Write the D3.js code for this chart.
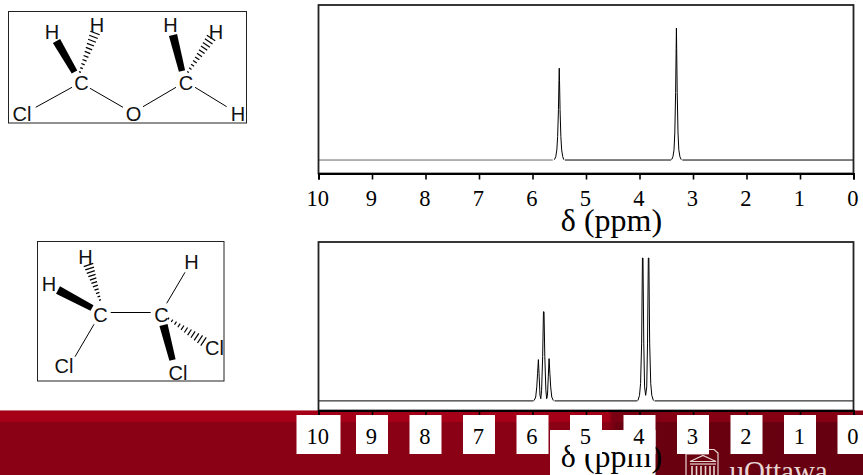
<!DOCTYPE html>
<html><head><meta charset="utf-8">
<script src="https://cdn.jsdelivr.net/npm/d3@7"></script>
<style>html,body{margin:0;padding:0;background:#fff;overflow:hidden}svg{display:block}</style>
</head><body><svg id="c" width="863" height="475"></svg>
<script>
// ---- chart values ----
const ppmTicks = [10,9,8,7,6,5,4,3,2,1,0];
const axisLabel = "δ (ppm)";
// spectrum traces: [ppm, intensity %]
const spectrumA_left = [[10,8],[5.62,8]];
const spectrumA_peak1 = [[5.59,8.2],[5.565,10],[5.545,14],[5.53,22],[5.515,38],[5.505,55],[5.5,62.5],[5.495,55],[5.485,38],[5.47,22],[5.455,14],[5.435,10],[5.415,8.2]];
const spectrumA_mid = [[5.395,8],[3.41,8]];
const spectrumA_peak2 = [[3.4,8.2],[3.375,10],[3.355,14],[3.34,24],[3.325,48],[3.315,74],[3.31,86.3],[3.305,74],[3.295,48],[3.28,24],[3.265,14],[3.245,10],[3.22,8.2]];
const spectrumA_right = [[3.2,8],[0,8]];
const spectrumB_left = [[10,5.7],[5.98,5.7]];
const spectrumB_triplet = [[5.97,5.9],[5.94,8],[5.92,14],[5.905,22],[5.89,30.2],[5.875,20],[5.86,9],[5.845,7],[5.83,12],[5.81,32],[5.795,58.6],[5.785,58.6],[5.77,32],[5.75,12],[5.735,7],[5.72,9],[5.705,20],[5.69,30.8],[5.675,22],[5.66,14],[5.64,8],[5.61,5.9]];
const spectrumB_mid = [[5.59,5.7],[4.04,5.7]];
const spectrumB_doublet = [[4.03,5.9],[4.0,9],[3.98,16],[3.96,40],[3.945,90.5],[3.935,90.5],[3.92,40],[3.905,14],[3.885,9],[3.865,14],[3.85,40],[3.835,90.5],[3.825,90.5],[3.81,40],[3.79,16],[3.77,9],[3.74,5.9]];
const spectrumB_right = [[3.72,5.7],[0,5.7]];

// ---- molecule text and bonds (diagram geometry, not data) ----
const moleculeAtomsA = [["H",52,31.5],["H",97,25],["C",81.5,83],["Cl",22,114],["O",133.5,114],["C",186,83],["H",170.5,25],["H",216,31.5],["H",238,114]];
const moleculeBondsA = [[35.7,107.3,72,87.3],[90,88.3,123,107.3],[143,106.7,176,87.3],[195,87.3,226.7,106.7]];
const moleculeWedgesA = [[56.5,41,74.5,72],[173,35,182,71]];
const moleculeHashesA = [[80,72,95,33],[188,72,211,38]];
const moleculeAtomsB = [["H",85.5,256.5],["H",49,284],["C",100.5,315],["C",161.5,314.5],["H",191.5,262],["Cl",214.5,347.5],["Cl",64,366],["Cl",178,372.5]];
const moleculeBondsB = [[110.7,312.5,150.7,312.5],[166.7,303.3,185,272.3],[94,324.3,75,356.7]];
const moleculeWedgesB = [[58,290,92,308],[163.5,325,172.5,360]];
const moleculeHashesB = [[100,300,88.5,265],[168.5,318.5,203.5,341.5]];

const svg = d3.select("#c");
const defs = svg.append("defs");
const g1 = defs.append("linearGradient").attr("id","bandTop");
[[0,"#a50018"],[.705,"#a50018"],[.71,"#7a0012"],[.75,"#7a0012"],[.77,"#860014"],[1,"#860014"]].forEach(s=>g1.append("stop").attr("offset",s[0]).attr("stop-color",s[1]));
const g2 = defs.append("linearGradient").attr("id","bandLow");
[[0,"#8a0014"],[.705,"#8a0014"],[.715,"#6a0010"],[1,"#660010"]].forEach(s=>g2.append("stop").attr("offset",s[0]).attr("stop-color",s[1]));

// ---- footer band ----
svg.append("rect").attr("x",0).attr("y",410).attr("width",863).attr("height",65).attr("fill","url(#bandLow)");
svg.append("rect").attr("x",0).attr("y",410).attr("width",863).attr("height",12).attr("fill","url(#bandTop)");
svg.append("rect").attr("x",0).attr("y",410).attr("width",863).attr("height",1).attr("fill","#c8707f");

// logo
const logo = svg.append("g").attr("fill","none").attr("stroke","#e9d6d3").attr("stroke-width",1.2);
logo.append("path").attr("d","M686 475V454H708V449.5H714L718 453V475");
logo.append("path").attr("d","M690 461.5L703 455.5L716 461.5Z");
logo.append("path").attr("d","M690 464H716");
logo.append("path").attr("d","M692 466V475M696.5 466V475M701 466V475M705.5 466V475M710 466V475M714 466V475").attr("stroke-width",1.6);
svg.append("text").attr("x",729.5).attr("y",481).attr("font-family","'Liberation Serif'").attr("font-size",29).attr("fill","#e9d6d3").text("uOttawa");

const x = d3.scaleLinear().domain([10,0]).range([318.5,853.5]);

function panel(top,bottom,traces,labelY,labelBaseline,boxes){
  const y = d3.scaleLinear().domain([0,100]).range([bottom,top]);
  const g = svg.append("g");
  const line = d3.line().x(d=>x(d[0])).y(d=>y(d[1]));
  traces.forEach(t=>{
    g.append("path").datum(t.d).attr("d",line).attr("fill","none")
     .attr("stroke",t.c||"#000").attr("stroke-width",t.w||1);
  });
  g.append("rect").attr("x",x(10)).attr("y",top).attr("width",x(0)-x(10)).attr("height",bottom-top)
   .attr("fill","none").attr("stroke","#222").attr("stroke-width",1.8);
  const axis = d3.axisBottom(x).tickValues(ppmTicks).tickSize(6).tickFormat("");
  const ag = g.append("g").attr("transform",`translate(0,${bottom})`).call(axis);
  ag.selectAll("path").attr("stroke","#000").attr("stroke-width",2);
  ag.selectAll("line").attr("stroke","#000").attr("stroke-width",1.6);

  const lg = svg.append("g");
  if(boxes){
    lg.append("rect").attr("x",550).attr("y",430).attr("width",105.5).attr("height",45).attr("fill","#fff");
  }
  lg.append("text").attr("x",611.5).attr("y",labelBaseline).attr("text-anchor","middle")
    .attr("font-family","'Liberation Serif'").attr("font-size",32).attr("fill","#000").text(axisLabel);
  ppmTicks.forEach(v=>{
    const cx = x(v);
    if(boxes){
      const hw = v===10?22:16;
      lg.append("rect").attr("x",cx-hw).attr("y",415).attr("width",hw*2).attr("height",39).attr("fill","#fff");
    }
    lg.append("text").attr("x",cx-0.7).attr("y",labelY).attr("text-anchor","middle")
      .attr("font-family","'Liberation Serif'").attr("font-size",22.5).attr("fill","#000").text(v);
  });
}
panel(5,173.5,[
  {d:spectrumA_left,c:"#666"},{d:spectrumA_peak1},{d:spectrumA_mid},{d:spectrumA_peak2},{d:spectrumA_right}
],206,231,false);
panel(242,410.5,[
  {d:spectrumB_left},{d:spectrumB_triplet},{d:spectrumB_mid},{d:spectrumB_doublet},{d:spectrumB_right}
],444,466.5,true);

// ---- molecules ----
function molecule(frame,atoms,bonds,wedges,hashes){
  const g = svg.append("g");
  g.append("rect").attr("x",frame[0]).attr("y",frame[1]).attr("width",frame[2]-frame[0]).attr("height",frame[3]-frame[1])
   .attr("fill","#fff").attr("stroke","#222").attr("stroke-width",1);
  bonds.forEach(b=>g.append("line").attr("x1",b[0]).attr("y1",b[1]).attr("x2",b[2]).attr("y2",b[3]).attr("stroke","#000").attr("stroke-width",1));
  wedges.forEach(w=>{
    const dx=w[2]-w[0],dy=w[3]-w[1],l=Math.hypot(dx,dy),nx=-dy/l,ny=dx/l,a=4.2,b=3.2;
    g.append("polygon").attr("points",[[w[0]+nx*a,w[1]+ny*a],[w[0]-nx*a,w[1]-ny*a],[w[2]-nx*b,w[3]-ny*b],[w[2]+nx*b,w[3]+ny*b]].join(" ")).attr("fill","#000");
  });
  hashes.forEach(h=>{
    const dx=h[2]-h[0],dy=h[3]-h[1],l=Math.hypot(dx,dy),nx=-dy/l,ny=dx/l,n=11;
    d3.range(n).forEach(i=>{
      const t=i/(n-1),px=h[0]+dx*t,py=h[1]+dy*t,r=1+t*4;
      g.append("line").attr("x1",px+nx*r).attr("y1",py+ny*r).attr("x2",px-nx*r).attr("y2",py-ny*r).attr("stroke","#000").attr("stroke-width",1.2);
    });
  });
  atoms.forEach(a=>g.append("text").attr("x",a[1]).attr("y",a[2]+7).attr("text-anchor","middle")
    .attr("font-family","'Liberation Sans'").attr("font-size",20).attr("fill","#111").text(a[0]));
}
molecule([8.5,11.5,246.5,123],moleculeAtomsA,moleculeBondsA,moleculeWedgesA,moleculeHashesA);
molecule([37.5,241.5,224,381],moleculeAtomsB,moleculeBondsB,moleculeWedgesB,moleculeHashesB);
</script></body></html>
